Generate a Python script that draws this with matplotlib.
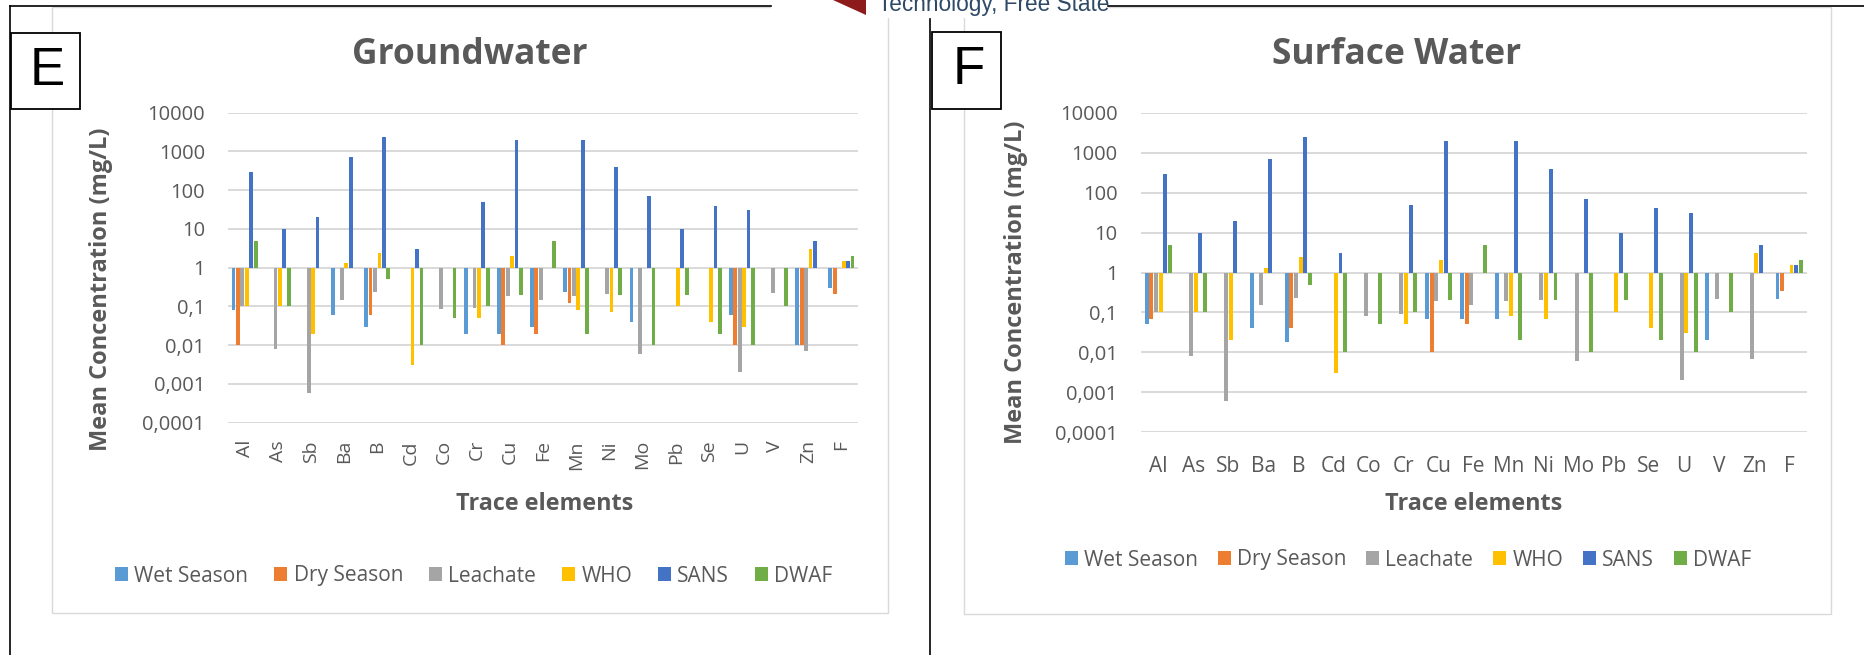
import numpy as np
import matplotlib
matplotlib.use('Agg')
import matplotlib.pyplot as plt
from matplotlib import font_manager
from matplotlib.patches import Rectangle, Polygon, Patch
from matplotlib.lines import Line2D
from matplotlib.ticker import FixedLocator, NullLocator

nan = np.nan

elements = ['Al', 'As', 'Sb', 'Ba', 'B', 'Cd', 'Co', 'Cr', 'Cu', 'Fe',
            'Mn', 'Ni', 'Mo', 'Pb', 'Se', 'U', 'V', 'Zn', 'F']
series = ['Wet Season', 'Dry Season', 'Leachate', 'WHO', 'SANS', 'DWAF']
colors = ['#5B9BD5', '#ED7D31', '#A5A5A5', '#FFC000', '#4472C4', '#70AD47']

# groundwater (E)
gw_wet = [0.08, nan, nan, 0.06, 0.03, nan, nan, 0.02, 0.02, 0.03, 0.24, nan, 0.04, nan, nan, 0.06, nan, 0.01, 0.3]
gw_dry = [0.01, nan, nan, nan, 0.06, nan, nan, nan, 0.01, 0.02, 0.12, nan, nan, nan, nan, 0.01, nan, 0.01, 0.21]
gw_leach = [0.1, 0.008, 0.0006, 0.15, 0.24, nan, 0.085, 0.09, 0.19, 0.15, 0.19, 0.21, 0.006, nan, nan, 0.002, 0.22, 0.007, nan]
gw_who = [0.1, 0.1, 0.02, 1.3, 2.4, 0.003, nan, 0.05, 2, nan, 0.08, 0.07, nan, 0.1, 0.04, 0.03, nan, 3, 1.5]
gw_sans = [300, 10, 20, 700, 2400, 3, nan, 50, 2000, nan, 2000, 400, 70, 10, 40, 30, nan, 5, 1.5]
gw_dwaf = [5, 0.1, nan, nan, 0.5, 0.01, 0.05, 0.1, 0.2, 5, 0.02, 0.2, 0.01, 0.2, 0.02, 0.01, 0.1, nan, 2]

# surface water (F)
sw_wet = [0.05, nan, nan, 0.04, 0.018, nan, nan, nan, 0.07, 0.07, 0.07, nan, nan, nan, nan, nan, 0.02, nan, 0.22]
sw_dry = [0.07, nan, nan, nan, 0.04, nan, nan, nan, 0.01, 0.05, nan, nan, nan, nan, nan, nan, nan, nan, 0.34]
sw_leach = [0.1, 0.008, 0.0006, 0.15, 0.23, nan, 0.083, 0.09, 0.19, 0.15, 0.19, 0.21, 0.006, nan, nan, 0.002, 0.22, 0.007, nan]
sw_who = [0.1, 0.1, 0.02, 1.3, 2.4, 0.003, nan, 0.05, 2, nan, 0.08, 0.07, nan, 0.1, 0.04, 0.03, nan, 3, 1.5]
sw_sans = [300, 10, 20, 700, 2400, 3, nan, 50, 2000, nan, 2000, 400, 70, 10, 40, 30, nan, 5, 1.5]
sw_dwaf = [5, 0.1, nan, nan, 0.5, 0.01, 0.05, 0.1, 0.2, 5, 0.02, 0.2, 0.01, 0.2, 0.02, 0.01, 0.1, nan, 2]

ytick_vals = [1e-4, 1e-3, 1e-2, 1e-1, 1, 10, 100, 1000, 10000]
ytick_labels = ['0,0001', '0,001', '0,01', '0,1', '1', '10', '100', '1000', '10000']

W, H = 1865, 655
fig = plt.figure(figsize=(W / 100, H / 100), dpi=100)

installed = {f.name for f in font_manager.fontManager.ttflist}
narrow = 'Liberation Sans Narrow' if 'Liberation Sans Narrow' in installed else 'Liberation Sans'
sans = 'Open Sans'
txt_grey = '#595959'
grid_grey = '#D9D9D9'


def fx(x):
    return x / W


def fy(y):
    return 1 - y / H


def draw_panel(data, title, tag, area, axbox, title_xy, ylab_xy, xlab_xy, leg_xy, leg_gap, tagbox, rotated):
    # chart area frame
    fig.add_artist(Rectangle((fx(area[0]), fy(area[3])), fx(area[2] - area[0]), (area[3] - area[1]) / H,
                             transform=fig.transFigure, facecolor='white', edgecolor=grid_grey, lw=1.0, zorder=0))
    l, t, r, b = axbox
    ax = fig.add_axes([fx(l), fy(b), fx(r - l), (b - t) / H])
    ax.set_yscale('log')
    x = np.arange(len(elements))
    slot = 0.8 / 6
    for i, (vals, c) in enumerate(zip(data, colors)):
        v = np.array(vals, dtype=float)
        m = ~np.isnan(v)
        ax.bar(x[m] + (i - 2.5) * slot, v[m] - 1, bottom=1, width=slot * 0.85, color=c, zorder=3)
    ax.set_ylim(1e-4, 1e4)
    ax.set_xlim(-0.5, len(elements) - 0.5)
    ax.yaxis.set_major_locator(FixedLocator(ytick_vals))
    ax.yaxis.set_minor_locator(NullLocator())
    ax.set_yticklabels(ytick_labels, family=sans, fontsize=14.5, color=txt_grey)
    ax.set_xticks(x)
    if rotated:
        ax.set_xticklabels(elements, rotation=90, family=sans, fontsize=14, color=txt_grey)
        ax.tick_params(axis='x', pad=12.5)
    else:
        ax.set_xticklabels(elements, family=sans, fontsize=15, color=txt_grey)
        ax.tick_params(axis='x', pad=17)
    ax.tick_params(axis='y', pad=16.5)
    ax.tick_params(length=0)
    ax.grid(axis='y', color=grid_grey, lw=1.4)
    ax.set_axisbelow(True)
    for s in ax.spines.values():
        s.set_visible(False)
    ax.patch.set_alpha(0)

    fig.text(fx(title_xy[0]), fy(title_xy[1]), title, ha='center', va='center',
             family=sans, weight='bold', fontsize=25.5, color=txt_grey)
    fig.text(fx(ylab_xy[0]), fy(ylab_xy[1]), 'Mean Concentration (mg/L)', ha='center', va='center',
             rotation=90, family=sans, weight='bold', fontsize=17, color=txt_grey)
    fig.text(fx(xlab_xy[0]), fy(xlab_xy[1]), 'Trace elements', ha='center', va='center',
             family=sans, weight='bold', fontsize=16.8, color=txt_grey)
    handles = [Patch(facecolor=c) for c in colors]
    fig.legend(handles, series, loc='center', bbox_to_anchor=(fx(leg_xy[0]), fy(leg_xy[1])), ncol=6,
               frameon=False, prop=dict(family=sans, size=15), labelcolor=txt_grey,
               handlelength=0.62, handleheight=0.62, handletextpad=0.3, columnspacing=leg_gap,
               borderpad=0, borderaxespad=0)

    # panel letter box
    fig.add_artist(Rectangle((fx(tagbox[0]), fy(tagbox[3])), fx(tagbox[2] - tagbox[0]), (tagbox[3] - tagbox[1]) / H,
                             transform=fig.transFigure, facecolor='white', edgecolor='black', lw=1.3, zorder=5))
    fig.text(fx((tagbox[0] + tagbox[2]) / 2 + 2), fy((tagbox[1] + tagbox[3]) / 2), tag, ha='center', va='center',
             family='Liberation Sans', fontsize=38, color='black', zorder=6)
    return ax


draw_panel([gw_wet, gw_dry, gw_leach, gw_who, gw_sans, gw_dwaf], 'Groundwater', 'E',
           area=(52, 7, 888, 613), axbox=(228, 112.7, 858, 422.7), title_xy=(470, 55),
           ylab_xy=(101, 289), xlab_xy=(545, 504), leg_xy=(474, 576), leg_gap=1.25,
           tagbox=(11, 33, 80, 109), rotated=True)

draw_panel([sw_wet, sw_dry, sw_leach, sw_who, sw_sans, sw_dwaf], 'Surface Water', 'F',
           area=(964, 7, 1831, 614), axbox=(1140.7, 112.7, 1806.7, 432.3), title_xy=(1397, 55),
           ylab_xy=(1016, 282), xlab_xy=(1474, 504), leg_xy=(1408, 560), leg_gap=0.95,
           tagbox=(932, 32, 1001, 109), rotated=False)

# page frame lines
frame_kw = dict(color='black', lw=1.2, transform=fig.transFigure, zorder=4)
fig.add_artist(Line2D([fx(10), fx(771)], [fy(6), fy(6)], **frame_kw))
fig.add_artist(Line2D([fx(1108), fx(1865)], [fy(6), fy(6)], **frame_kw))
fig.add_artist(Line2D([fx(10), fx(10)], [fy(6), fy(655)], **frame_kw))
fig.add_artist(Line2D([fx(930), fx(930)], [fy(19), fy(655)], **frame_kw))

# cropped logo strip at the top
fig.add_artist(Rectangle((fx(771), fy(18)), fx(337), 18 / H, transform=fig.transFigure,
                         facecolor='white', edgecolor='none', zorder=3))
fig.add_artist(Polygon([(fx(833), fy(0)), (fx(866), fy(0)), (fx(866), fy(15))], closed=True,
                       transform=fig.transFigure, facecolor='#8E1B1B', edgecolor='none', zorder=4))
fig.text(fx(878), fy(11), 'Technology, Free State', ha='left', va='baseline',
         family=narrow, fontsize=16.3, color='#2E4A66', zorder=4)

fig.savefig('out.png', dpi=100)
